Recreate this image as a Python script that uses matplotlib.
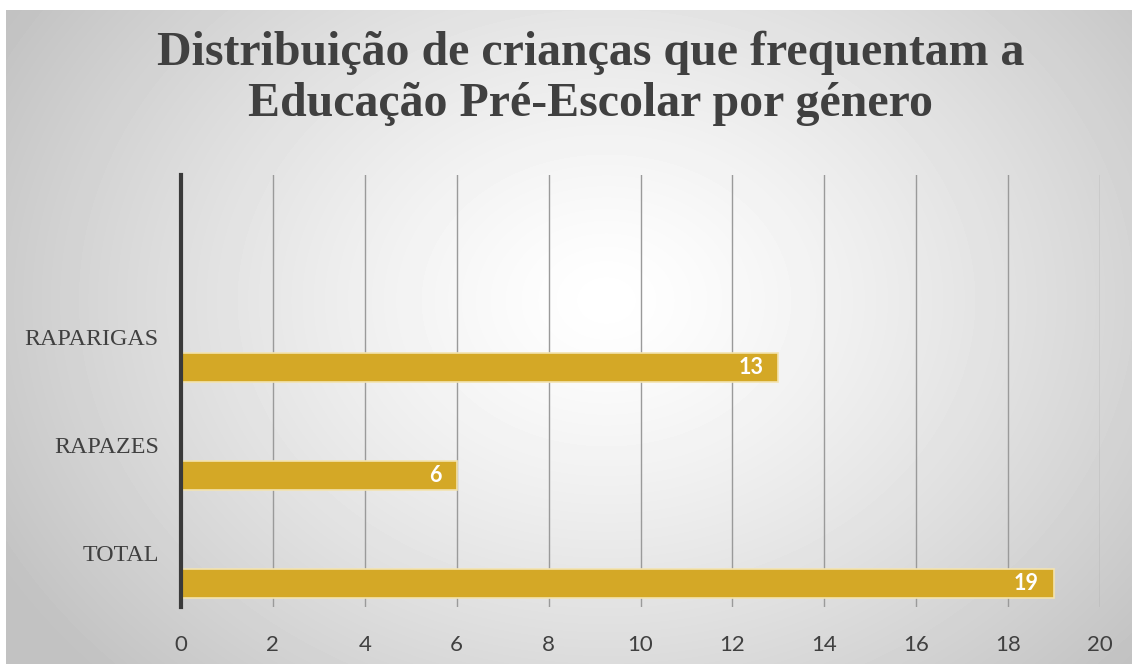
import numpy as np
import matplotlib.pyplot as plt

categories = ['TOTAL', 'RAPAZES', 'RAPARIGAS']
values = [19, 6, 13]
x_ticks = [0, 2, 4, 6, 8, 10, 12, 14, 16, 18, 20]
title = 'Distribuição de crianças que frequentam a\nEducação Pré-Escolar por género'

W, H = 1132, 664
fig = plt.figure(figsize=(W / 100, H / 100), dpi=100)
fig.patch.set_facecolor('white')

# radial grey background (white margin at top / left like the original)
bg = fig.add_axes([6 / W, 0, 1 - 6 / W, 1 - 10 / H])
yy, xx = np.mgrid[0:654, 0:1126]
d = np.sqrt(((xx - 600) / 760.0) ** 2 + ((yy - 290) / 600.0) ** 2)
shade = np.clip(1.0 - 0.27 * d ** 1.3, 0.76, 1.0)
bg.imshow(shade, cmap='gray', vmin=0, vmax=1, aspect='auto', interpolation='bilinear')
bg.axis('off')

ax = fig.add_axes([181 / W, 1 - 607 / H, (1100 - 181) / W, (607 - 175) / H])
ax.patch.set_alpha(0)

pos = np.arange(len(categories))
bars = ax.barh(pos - 0.285, values, height=0.27, color='#d4a826',
               edgecolor='#f3e3b0', linewidth=1.2, zorder=3)
for b, v in zip(bars, values):
    ax.text(v - 0.33, b.get_y() + b.get_height() / 2, str(v), ha='right', va='center',
            color='white', fontsize=15.5, fontweight='bold', family='Lato', zorder=4)

ax.set_xlim(0, 20)
ax.set_ylim(-0.5, 3.5)
ax.set_xticks(x_ticks)
ax.set_xticklabels([str(t) for t in x_ticks], family='Lato', fontsize=16, color='#404040')
ax.set_yticks(pos)
ax.set_yticklabels(categories, family='Liberation Serif', fontsize=17.3, color='#404040')
ax.tick_params(axis='both', length=0)
ax.tick_params(axis='x', pad=20)
ax.tick_params(axis='y', pad=16)
ax.xaxis.grid(True, color='#9a9a9a', linewidth=1.0, zorder=0)
for s in ['top', 'right', 'bottom']:
    ax.spines[s].set_visible(False)
ax.spines['left'].set_color('#3a3a3a')
ax.spines['left'].set_linewidth(3)
ax.spines['left'].set_zorder(5)

fig.text(0.522, 1 - 78 / H, title, ha='center', va='center', family='Liberation Serif',
         fontsize=34.5, fontweight='bold', color='#404040', linespacing=1.2)

fig.savefig('out.png', dpi=100)
